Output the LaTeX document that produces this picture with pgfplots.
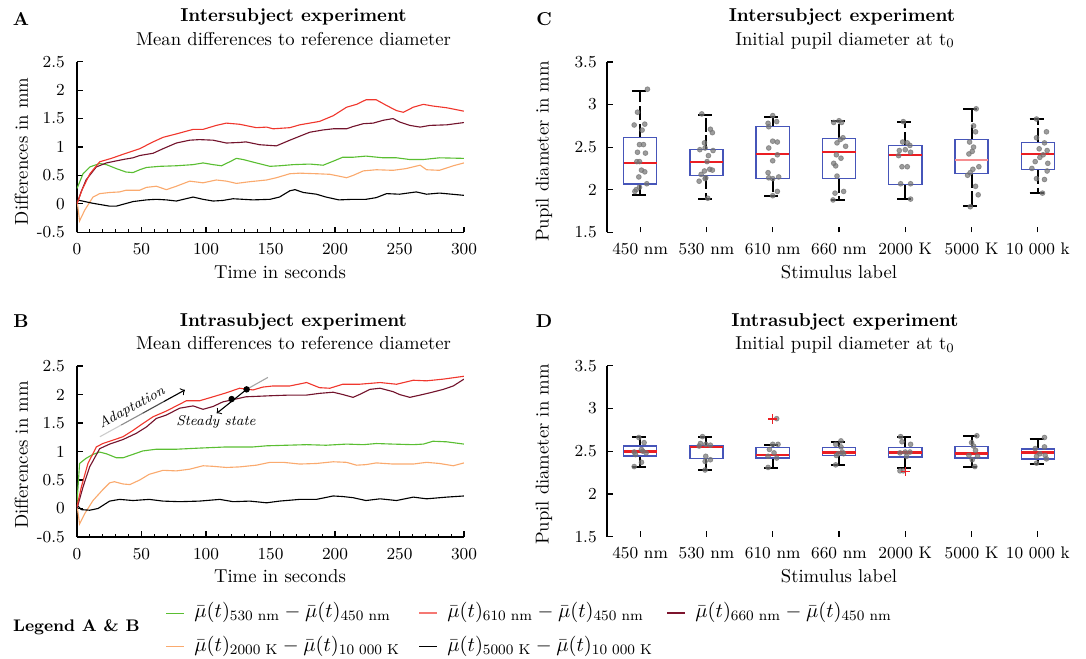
\documentclass[border=0pt]{standalone}
\usepackage{fontspec}
\usepackage{amsmath}
\usepackage{pgfplots}
\pgfplotsset{compat=1.18}
\usepgfplotslibrary{statistics}

\definecolor{cgreen}{RGB}{90,190,50}
\definecolor{cred}{RGB}{240,55,45}
\definecolor{cdark}{RGB}{115,20,45}
\definecolor{corange}{RGB}{250,170,110}
\definecolor{boxblue}{RGB}{70,85,185}
\definecolor{medred}{RGB}{235,30,35}
\definecolor{dotgray}{RGB}{115,115,115}
\definecolor{legred}{RGB}{245,120,115}
\definecolor{legdark}{RGB}{125,20,45}

\pgfplotsset{
  common/.style={
    anchor=south west, scale only axis,
    axis lines*=left,
    tick align=inside,
    axis line style={line width=0.6pt},
    every tick/.style={black, line width=0.6pt},
    major tick length=3pt, minor tick length=1.8pt,
    tick label style={font=\fontsize{9}{10}\selectfont},
    xticklabel style={anchor=base, yshift=-11.8pt},
  },
  lineax/.style={
    common,
    width=207.43pt,
    xmin=0, xmax=300, ymin=-0.5, ymax=2.5,
    xtick={0,50,...,300}, minor x tick num=4,
    ytick={-0.5,0,0.5,1,1.5,2,2.5},
    yticklabels={-0.5,0,0.5,1,1.5,2,2.5},
    yticklabel style={xshift=-3pt},
    xlabel={Time in seconds}, ylabel={Differences in mm},
    every axis plot/.append style={line width=0.6pt},
  },
  boxax/.style={
    common,
    width=248.7pt,
    xmin=0.5, xmax=7.5, ymin=1.5, ymax=3.5,
    x axis line style={draw=none},
    xtick={1,...,7},
    xticklabels={450 nm,530 nm,610 nm,660 nm,2000 K,5000 K,10 000 k},
    ytick={1.5,2,2.5,3,3.5},
    yticklabels={1.5,2,2.5,3,3.5},
    yticklabel style={xshift=-2pt},
    xlabel={Stimulus label}, ylabel={Pupil diameter in mm},
    boxplot/draw direction=y,
    boxplot/box extend=0.5,
    boxplot/whisker extend=0.25,
    boxplot/every box/.style={draw=boxblue, line width=0.7pt},
    boxplot/every median/.style={draw=medred, line width=1.3pt},
    boxplot/every whisker/.style={draw=black, line width=1pt, dash pattern=on 7.5pt off 2pt},
  },
  dots/.style={only marks, mark=*, mark size=1.3pt, color=dotgray, opacity=0.7},
}

\newcommand{\bp}[6]{\addplot[boxplot prepared={draw position=#1, lower whisker=#2,
  lower quartile=#3, median=#4, upper quartile=#5, upper whisker=#6}] coordinates {};}

\begin{document}
\begin{tikzpicture}

% ---------------- A ----------------
\begin{axis}[lineax, at={(41.27pt,-124.51pt)}, height=91.44pt,
  xlabel style={at={(axis description cs:0.5245,-0.270)}, anchor=base},
  ylabel style={at={(axis description cs:-0.1434,0.4745)}, anchor=center}]
\addplot[cgreen] coordinates {(0,0.27) (4.7,0.53) (10,0.65) (17.6,0.71) (22.8,0.69) (30.5,0.62) (38,0.56) (43.4,0.55) (48.6,0.60) (53.8,0.64) (64,0.66) (77,0.67) (90,0.69) (97.7,0.72) (105.5,0.69) (112,0.67) (118.4,0.74) (123.6,0.80) (128.8,0.78) (139,0.72) (149.6,0.66) (157,0.67) (167.6,0.69) (180.5,0.70) (190.8,0.68) (198.6,0.75) (206,0.82) (214,0.82) (224,0.84) (237.4,0.81) (247.7,0.81) (258,0.78) (268.5,0.78) (281,0.81) (300,0.80)};
\addplot[corange] coordinates {(0,0.07) (2,-0.30) (6,-0.11) (12.4,0.12) (17.6,0.18) (25.3,0.20) (33,0.21) (38,0.24) (48.6,0.24) (53.8,0.29) (61.5,0.31) (69.3,0.25) (77,0.31) (87.4,0.40) (97.7,0.37) (108,0.42) (115.8,0.40) (123.6,0.36) (134,0.39) (147,0.42) (154.6,0.46) (165,0.53) (172.7,0.54) (185.6,0.53) (196,0.52) (209,0.46) (214,0.50) (222,0.58) (232,0.60) (245,0.59) (255,0.62) (266,0.68) (271,0.60) (281,0.59) (291.7,0.67) (300,0.72)};
\addplot[black] coordinates {(0,0.07) (12.4,0.01) (25.3,-0.04) (30.5,-0.04) (43.4,0.04) (53.8,0.07) (61.5,0.08) (69.3,0.07) (77,0.05) (90,0.12) (97.7,0.08) (105.5,0.05) (113,0.06) (121,0.09) (128.8,0.08) (136.5,0.07) (149.6,0.08) (157,0.12) (165,0.23) (169,0.25) (175.5,0.20) (185.6,0.17) (193,0.12) (203,0.07) (214,0.08) (224,0.08) (232,0.11) (240,0.18) (250,0.17) (263,0.21) (271,0.17) (281,0.19) (300,0.15)};
\addplot[cdark] coordinates {(0,0) (3,0.2) (7,0.42) (15,0.65) (22.8,0.72) (35.7,0.78) (43.4,0.81) (48.6,0.85) (59,0.89) (66.7,0.97) (77,1.07) (87.4,1.12) (95,1.13) (105.5,1.12) (115.8,1.07) (126,1.08) (131,1.09) (141.6,1.04) (154.6,1.02) (165,1.12) (172.7,1.19) (180.5,1.26) (190.8,1.30) (198.6,1.32) (209,1.32) (214,1.36) (222,1.41) (229.6,1.42) (237.4,1.47) (245,1.50) (250,1.44) (258,1.38) (266,1.35) (273.6,1.38) (286.6,1.39) (300,1.43)};
\addplot[cred] coordinates {(0,0) (4,0.25) (10,0.53) (17.6,0.74) (26.6,0.80) (38,0.89) (48.6,0.97) (59,1.09) (66.7,1.17) (77,1.23) (90,1.31) (97.7,1.31) (108,1.38) (115.8,1.42) (126,1.40) (139,1.34) (147,1.35) (152,1.32) (165,1.34) (172.7,1.39) (188,1.45) (198.6,1.55) (209,1.70) (216.7,1.75) (224,1.83) (232,1.83) (240,1.73) (247.7,1.64) (253,1.61) (260.7,1.70) (268.5,1.75) (276,1.72) (286.6,1.69) (300,1.63)};
\end{axis}

% ---------------- B ----------------
\begin{axis}[lineax, at={(41.27pt,-287.83pt)}, height=91.66pt,
  xlabel style={at={(axis description cs:0.5245,-0.267)}, anchor=base},
  ylabel style={at={(axis description cs:-0.1434,0.48)}, anchor=center}]
\addplot[cgreen] coordinates {(0,0.1) (2,0.79) (7,0.88) (12.4,0.95) (17.6,0.99) (22.8,0.96) (30.5,0.89) (35.7,0.89) (43.4,0.95) (51,1.01) (61.5,1.04) (77,1.04) (95,1.06) (115.8,1.08) (136.5,1.08) (147,1.10) (162.4,1.11) (178,1.12) (193,1.11) (209,1.13) (222,1.12) (232,1.14) (245,1.13) (260.7,1.12) (268.5,1.13) (276,1.18) (286.6,1.17) (300,1.13)};
\addplot[corange] coordinates {(0,0.06) (2,-0.27) (6,-0.09) (12.4,0.14) (20,0.33) (25.3,0.45) (29,0.47) (35.7,0.43) (41,0.42) (48.6,0.50) (56,0.60) (66.7,0.67) (77,0.66) (87.4,0.69) (97.7,0.75) (105.5,0.74) (115.8,0.72) (126,0.73) (139,0.76) (149.6,0.81) (160,0.81) (172.7,0.78) (185.6,0.79) (198.6,0.82) (209,0.81) (216.7,0.76) (224,0.77) (232,0.80) (245,0.78) (260.7,0.78) (271,0.81) (281,0.79) (291.7,0.75) (300,0.80)};
\addplot[black] coordinates {(0,0.06) (3.4,-0.02) (9.8,-0.03) (16.3,0.0) (25.3,0.13) (33,0.16) (43.4,0.14) (56,0.16) (66.7,0.13) (79.6,0.12) (95,0.13) (110.7,0.16) (121,0.12) (134,0.13) (147,0.10) (157,0.13) (172.7,0.16) (185.6,0.16) (198.6,0.22) (206,0.21) (214,0.19) (224,0.14) (235,0.17) (247.7,0.14) (260.7,0.20) (271,0.17) (286.6,0.20) (300,0.22)};
\addplot[cdark] coordinates {(0,0.0) (4.7,0.38) (9.8,0.73) (17.6,1.05) (25.3,1.13) (35.7,1.21) (46,1.32) (53.8,1.43) (61.5,1.58) (69.3,1.64) (79.6,1.76) (90,1.80) (97.7,1.74) (105.5,1.79) (113,1.87) (121,1.91) (131,1.96) (141.6,1.97) (152,1.98) (165,1.99) (178,1.99) (188,2.02) (198.6,2.04) (206,2.00) (214,1.95) (219,2.00) (227,2.09) (235,2.11) (245,2.05) (250,2.00) (258,1.95) (266,1.99) (273.6,2.03) (284,2.09) (291.7,2.15) (300,2.27)};
\addplot[cred] coordinates {(0,0.03) (3.4,0.38) (8.5,0.79) (15,1.08) (20,1.14) (28,1.20) (35.7,1.26) (43.4,1.37) (51,1.49) (59,1.61) (69.3,1.71) (77,1.80) (84.8,1.89) (95,1.89) (105.5,1.96) (115.8,2.03) (126,2.11) (136.5,2.08) (144,2.13) (152,2.15) (165,2.15) (178,2.21) (188,2.12) (196,2.11) (206,2.18) (219,2.18) (235,2.21) (247.7,2.18) (260.7,2.25) (271,2.24) (284,2.27) (300,2.32)};
% annotations: adaptation arrow (gray fading to black)
\draw[black!20, line width=0.6pt] (axis cs:17.8,1.26) -- (axis cs:34.3,1.465);
\draw[black!45, line width=0.6pt] (axis cs:34.3,1.465) -- (axis cs:50.8,1.67);
\draw[black!70, line width=0.6pt] (axis cs:50.8,1.67) -- (axis cs:67.2,1.875);
\draw[->, black, line width=0.6pt] (axis cs:67.2,1.875) -- (axis cs:83.7,2.08);
\node[rotate=28, anchor=south, inner sep=1.5pt, font=\itshape\fontsize{7.6}{8}\selectfont] at (axis cs:46,1.62) {Adaptation};
% steady state
\draw[gray!70, line width=0.6pt] (axis cs:131.5,2.09) -- (axis cs:148,2.30);
\draw[->, line width=0.6pt] (axis cs:131.5,2.09) -- (axis cs:108.3,1.67);
\addplot[only marks, mark=*, mark size=1.4pt, black] coordinates {(119.9,1.92) (131.5,2.09)};
\node[font=\itshape\fontsize{7.6}{8}\selectfont] at (axis cs:107.8,1.51) {Steady state};
\end{axis}

% ---------------- C ----------------
\begin{axis}[boxax, at={(325.35pt,-124.51pt)}, height=91.3pt,
  xlabel style={at={(axis description cs:0.5,-0.270)}, anchor=base},
  ylabel style={at={(axis description cs:-0.1358,0.4745)}, anchor=center}]
\bp{1}{1.941}{2.066}{2.313}{2.613}{3.164}
\bp{2}{1.891}{2.168}{2.324}{2.473}{2.875}
\bp{3}{1.930}{2.133}{2.418}{2.742}{2.855}
\bp{4}{1.879}{2.129}{2.441}{2.602}{2.809}
\bp{5}{1.891}{2.063}{2.410}{2.516}{2.797}
\addplot[boxplot prepared={draw position=6, lower whisker=1.809, lower quartile=2.188,
  median=2.348, upper quartile=2.590, upper whisker=2.949},
  boxplot/every median/.style={draw=medred!50, line width=1.3pt}] coordinates {};
\bp{7}{1.965}{2.234}{2.418}{2.555}{2.832}
\addplot[dots] coordinates {
 (1.11,3.18) (0.96,2.91) (0.91,2.76) (1.07,2.77) (1.03,2.70) (0.99,2.53) (1.05,2.53) (0.96,2.44) (1.08,2.43) (0.95,2.33) (0.99,2.33) (1.02,2.23) (1.07,2.21) (0.98,2.15) (1.10,2.07) (0.94,2.00) (0.92,1.98) (0.99,2.03)
 (1.93,2.89) (2.06,2.71) (2.09,2.67) (1.97,2.55) (1.98,2.49) (1.90,2.47) (2.10,2.46) (2.03,2.40) (2.01,2.33) (2.05,2.24) (1.97,2.22) (1.92,2.18) (1.99,2.14) (1.89,2.10) (2.02,1.90) (2.09,2.23) (1.98,2.13)
 (3.00,2.87) (3.06,2.80) (2.93,2.78) (2.94,2.74) (3.00,2.57) (3.07,2.56) (2.94,2.49) (3.07,2.41) (3.00,2.34) (2.93,2.20) (2.94,2.14) (3.00,2.13) (3.09,2.15) (3.07,1.98) (3.00,1.93)
 (4.00,2.81) (3.92,2.79) (4.04,2.79) (4.06,2.61) (3.97,2.55) (4.10,2.51) (3.96,2.41) (4.03,2.37) (3.92,2.31) (3.95,2.28) (3.97,2.16) (4.07,1.98) (3.94,1.96) (3.91,1.88) (4.02,2.59)
 (4.97,2.80) (4.96,2.56) (5.03,2.55) (5.07,2.52) (4.91,2.46) (5.00,2.47) (5.08,2.44) (4.90,2.40) (4.95,2.27) (5.03,2.27) (4.93,2.07) (5.08,2.07) (5.08,1.89)
 (6.07,2.95) (6.03,2.75) (6.06,2.68) (5.97,2.56) (6.03,2.50) (6.01,2.45) (5.96,2.42) (6.11,2.27) (6.02,2.24) (5.98,2.20) (5.94,2.17) (6.06,2.04) (6.10,1.94) (5.98,1.80)
 (6.98,2.83) (7.13,2.68) (6.98,2.61) (7.10,2.55) (7.02,2.48) (7.14,2.46) (7.08,2.41) (7.03,2.38) (6.96,2.33) (7.15,2.31) (6.91,2.25) (7.14,2.22) (6.98,2.13) (7.10,2.12) (7.07,1.96)
};
\end{axis}

% ---------------- D ----------------
\begin{axis}[boxax, at={(325.35pt,-287.67pt)}, height=91.7pt,
  xlabel style={at={(axis description cs:0.5,-0.267)}, anchor=base},
  ylabel style={at={(axis description cs:-0.1358,0.48)}, anchor=center}]
\bp{1}{2.319}{2.444}{2.494}{2.561}{2.662}
\bp{2}{2.280}{2.412}{2.549}{2.565}{2.670}
\bp{3}{2.307}{2.420}{2.455}{2.545}{2.576}
\bp{4}{2.342}{2.448}{2.483}{2.545}{2.611}
\bp{5}{2.307}{2.432}{2.483}{2.545}{2.670}
\bp{6}{2.319}{2.420}{2.471}{2.553}{2.681}
\bp{7}{2.354}{2.408}{2.483}{2.525}{2.646}
\addplot[dots] coordinates {
 (0.98,2.66) (1.06,2.60) (0.91,2.49) (1.02,2.52) (1.09,2.48) (1.04,2.50) (0.93,2.46) (1.02,2.37) (0.91,2.32)
 (1.94,2.67) (1.91,2.59) (1.99,2.58) (2.06,2.57) (1.89,2.56) (1.99,2.44) (2.06,2.40) (1.98,2.38) (1.98,2.28)
 (3.06,2.88) (3.00,2.58) (3.08,2.58) (2.95,2.52) (3.02,2.48) (2.93,2.44) (3.06,2.42) (2.93,2.31)
 (4.03,2.62) (3.95,2.58) (4.03,2.55) (4.05,2.49) (3.99,2.47) (4.07,2.47) (3.96,2.45) (3.95,2.34)
 (4.93,2.67) (4.95,2.61) (5.08,2.58) (4.92,2.48) (5.00,2.49) (5.07,2.49) (5.02,2.44) (4.92,2.27) (4.97,2.27)
 (6.08,2.68) (6.00,2.60) (6.03,2.56) (6.06,2.51) (5.96,2.45) (6.09,2.44) (6.01,2.40) (6.05,2.32)
 (7.10,2.66) (6.96,2.53) (7.10,2.55) (7.03,2.47) (6.98,2.44) (7.13,2.41) (6.98,2.36) (7.11,2.45)
};
\addplot[only marks, mark=+, mark size=2.5pt, medred, line width=0.6pt] coordinates {(3,2.876) (5,2.264)};
\end{axis}

% ---------------- titles, panel letters, legend ----------------
\begin{scope}[x=0.536pt, y=-0.536pt]
\path (0,0) rectangle (1086,658);
\node[anchor=base, font=\bfseries] at (293.5,21) {Intersubject experiment};
\node[anchor=base] at (293.5,45) {Mean differences to reference diameter};
\node[anchor=base, font=\bfseries] at (293.5,326) {Intrasubject experiment};
\node[anchor=base] at (293.5,349.5) {Mean differences to reference diameter};
\node[anchor=base, font=\bfseries] at (842,21) {Intersubject experiment};
\node[anchor=base] at (845,45) {Initial pupil diameter at t$_0$};
\node[anchor=base, font=\bfseries] at (845,326) {Intrasubject experiment};
\node[anchor=base] at (845,349.5) {Initial pupil diameter at t$_0$};
\node[anchor=base, font=\bfseries] at (21,25) {A};
\node[anchor=base, font=\bfseries] at (21,327) {B};
\node[anchor=base, font=\bfseries] at (544,25) {C};
\node[anchor=base, font=\bfseries] at (544,327) {D};
% legend
\node[anchor=base west, inner sep=0pt, font=\bfseries\fontsize{9}{10}\selectfont] at (12.7,631.7) {Legend A \& B};
\begin{scope}[font=\fontsize{11}{13}\selectfont, every node/.style={anchor=base west, inner sep=0pt}]
\draw[draw=cgreen, line width=0.7pt] (166,613.3) -- (184,613.3);
\node at (194,617.5) {$\bar{\mu}(t)_{\text{530 nm}}-\bar{\mu}(t)_{\text{450 nm}}$};
\draw[draw=legred, line width=0.9pt] (419,613.3) -- (437,613.3);
\node at (447,617.5) {$\bar{\mu}(t)_{\text{610 nm}}-\bar{\mu}(t)_{\text{450 nm}}$};
\draw[draw=legdark, line width=0.9pt] (667,613.3) -- (685,613.3);
\node at (695,617.5) {$\bar{\mu}(t)_{\text{660 nm}}-\bar{\mu}(t)_{\text{450 nm}}$};
\draw[draw=corange, line width=0.7pt] (166,646.7) -- (184,646.7);
\node at (194,651) {$\bar{\mu}(t)_{\text{2000 K}}-\bar{\mu}(t)_{\text{10 000 K}}$};
\draw[draw=black, line width=0.7pt] (419,646.7) -- (437,646.7);
\node at (447,651) {$\bar{\mu}(t)_{\text{5000 K}}-\bar{\mu}(t)_{\text{10 000 K}}$};
\end{scope}
\end{scope}

\end{tikzpicture}
\end{document}
